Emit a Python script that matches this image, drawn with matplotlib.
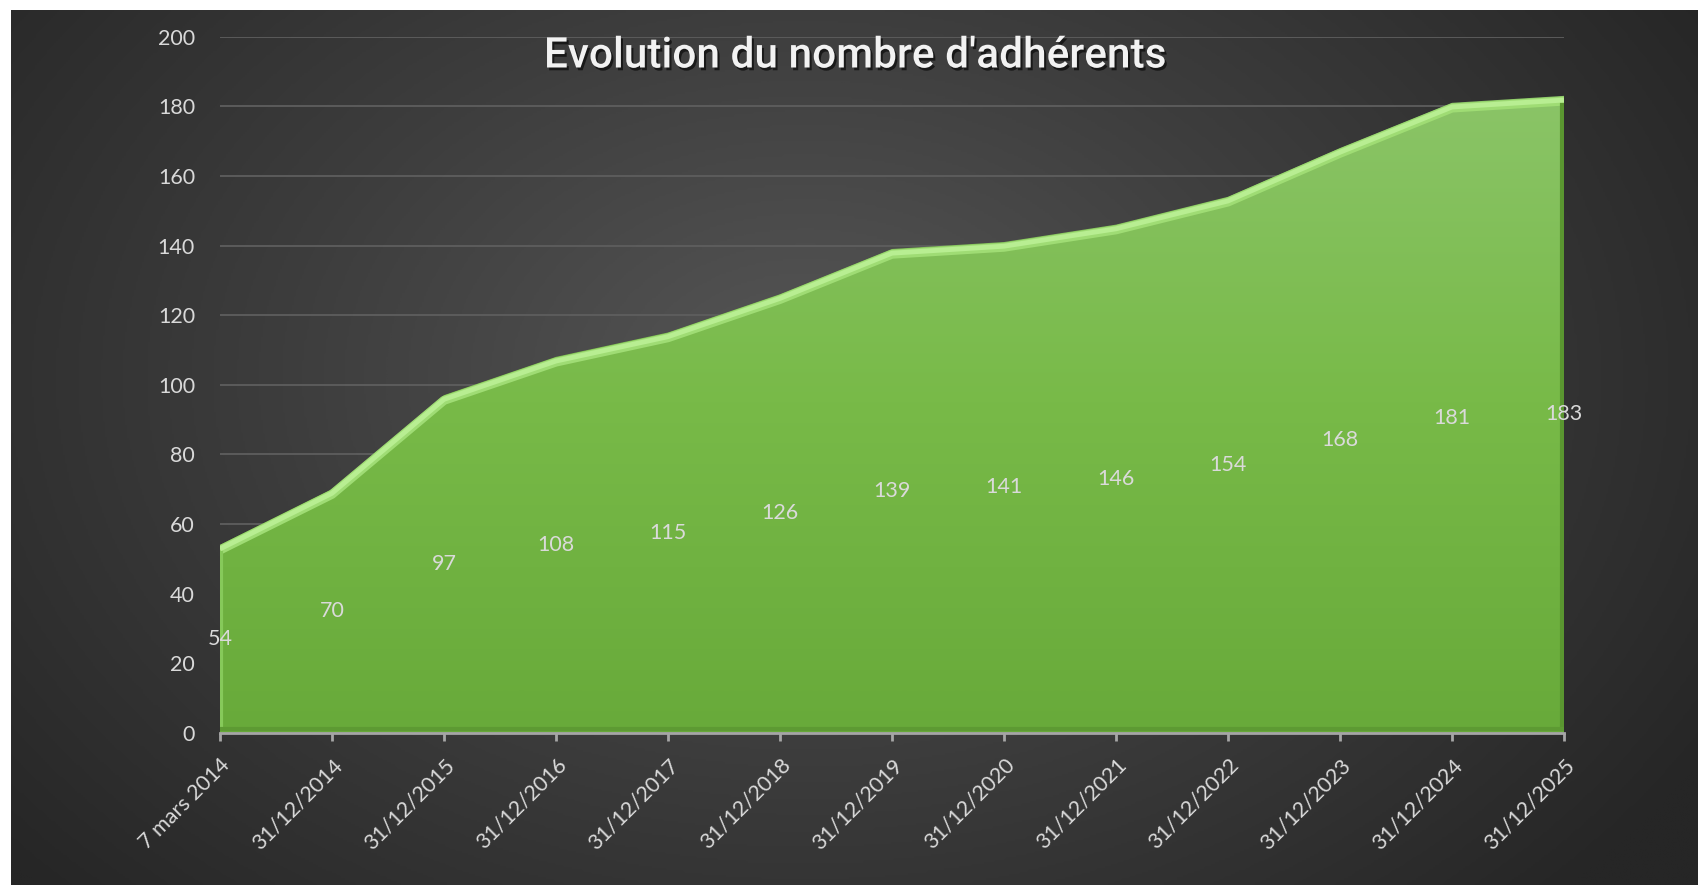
import numpy as np
import matplotlib
matplotlib.use("Agg")
import matplotlib.pyplot as plt
import matplotlib.patheffects as pe
from matplotlib.colors import LinearSegmentedColormap

# ---- data ----
categories = ["7 mars 2014", "31/12/2014", "31/12/2015", "31/12/2016", "31/12/2017",
              "31/12/2018", "31/12/2019", "31/12/2020", "31/12/2021", "31/12/2022",
              "31/12/2023", "31/12/2024", "31/12/2025"]
members = [54, 70, 97, 108, 115, 126, 139, 141, 146, 154, 168, 181, 183]
y_ticks = [0, 20, 40, 60, 80, 100, 120, 140, 160, 180, 200]
title = "Evolution du nombre d'adhérents"

W, H = 1699, 885
fig = plt.figure(figsize=(W / 100, H / 100), dpi=100, facecolor="white")

# ---- background radial gradient ----
bg = fig.add_axes([11 / W, 0, (W - 11) / W, (H - 10) / H])
bg.set_axis_off()
ny, nx = 400, 800
yy, xx = np.mgrid[0:ny, 0:nx]
cx, cy = nx * 0.47, ny * 0.42
r = np.sqrt(((xx - cx) / (nx * 0.62)) ** 2 + ((yy - cy) / (ny * 0.85)) ** 2)
r = np.clip(r, 0, 1)
bg_cmap = LinearSegmentedColormap.from_list("bg", ["#565656", "#3d3d3d", "#262626"])
bg.imshow(r, cmap=bg_cmap, aspect="auto", extent=[0, 1, 0, 1], origin="upper",
          interpolation="bilinear")
bg.set_xlim(0, 1)
bg.set_ylim(0, 1)

# ---- main axes ----
ax = fig.add_axes([220 / W, 1 - 732.7 / H, (1564 - 220) / W, (732.7 - 36.7) / H])
ax.patch.set_alpha(0)
x = np.arange(len(members))
ax.set_xlim(0, len(members) - 1)
ax.set_ylim(0, 200)

for t in y_ticks[1:]:
    ax.axhline(t, color="#5e5e5e", lw=1.3, zorder=1)

# green gradient fill
poly = ax.fill_between(x, 0, members, facecolor="none", edgecolor="none", zorder=2)
green = LinearSegmentedColormap.from_list("g", ["#68aa3a", "#78ba48", "#8cc56a"])
grad = np.linspace(0, 1, 256).reshape(-1, 1)
im = ax.imshow(grad, cmap=green, aspect="auto", extent=[0, len(members) - 1, 0, 190],
               origin="lower", zorder=2, interpolation="bilinear")
im.set_clip_path(poly.get_paths()[0], transform=ax.transData)

# bevel edges
ax.plot(x, np.array(members) - 1.5, color="#9fdc74", lw=6.5, zorder=3,
        solid_joinstyle="round", solid_capstyle="butt")
ax.plot(x, np.array(members) - 1.2, color="#b8ee92", lw=3.5, zorder=3,
        solid_joinstyle="round", solid_capstyle="butt")
ax.plot([x[-1] - 0.015, x[-1] - 0.015], [1, members[-1] - 2.5], color="#5a9630", lw=3, zorder=3)
ax.plot([x[0] + 0.012, x[0] + 0.012], [1, members[0] - 2.5], color="#86c95a", lw=3, zorder=3)
ax.plot([0, x[-1]], [1.2, 1.2], color="#5d9a33", lw=3, zorder=3)

# data labels
for xi, v in zip(x, members):
    ax.text(xi, v / 2, str(v), ha="center", va="center", color="#dadada",
            fontsize=15.5, family="Lato", zorder=5, clip_on=False)

# axes styling
for s in ["top", "right", "left"]:
    ax.spines[s].set_visible(False)
ax.spines["bottom"].set_color("#a6a6a6")
ax.spines["bottom"].set_linewidth(2)
ax.spines["bottom"].set_zorder(4)
ax.set_yticks(y_ticks)
ax.set_yticklabels([str(t) for t in y_ticks])
ax.tick_params(axis="y", length=0, pad=18, labelcolor="#d9d9d9", labelsize=15.5)
ax.set_xticks(x)
ax.set_xticklabels(categories, rotation=45, ha="right", va="top", rotation_mode="anchor")
ax.tick_params(axis="x", length=6, width=2, color="#a6a6a6", direction="out",
               labelcolor="#d9d9d9", labelsize=15.5, pad=10)
for lab in ax.get_xticklabels() + ax.get_yticklabels():
    lab.set_family("Lato")

# title
fig.text(855 / W, 1 - 56 / H, title, ha="center", va="center", color="#f2f2f2",
         fontsize=30.5, family="Roboto", fontweight="medium",
         path_effects=[pe.withSimplePatchShadow(offset=(1.5, -2), shadow_rgbFace="black", alpha=0.6)])

fig.savefig("out.png", dpi=100, facecolor="white")
